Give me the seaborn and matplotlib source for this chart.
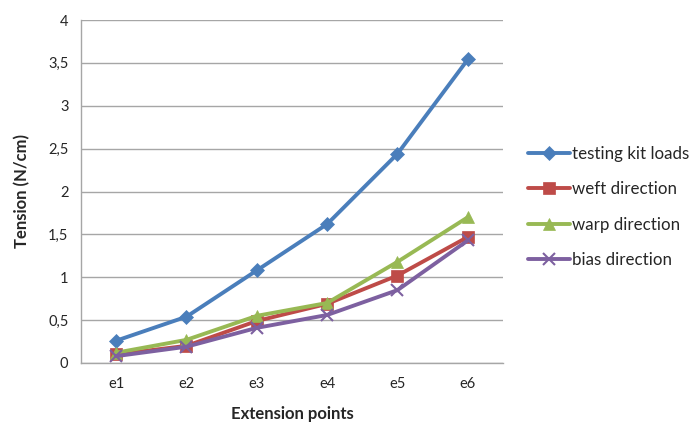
import matplotlib
matplotlib.use("Agg")
import matplotlib.pyplot as plt
import seaborn as sns
import pandas as pd
import numpy as np

categories = ["e1", "e2", "e3", "e4", "e5", "e6"]
testing_kit = [0.26, 0.54, 1.08, 1.62, 2.44, 3.54]
weft = [0.10, 0.20, 0.49, 0.69, 1.02, 1.47]
warp = [0.12, 0.27, 0.55, 0.70, 1.18, 1.70]
bias = [0.08, 0.19, 0.41, 0.56, 0.85, 1.43]
series_names = ["testing kit loads", "weft direction", "warp direction", "bias direction"]
y_ticks = [0, 0.5, 1, 1.5, 2, 2.5, 3, 3.5, 4]
y_tick_labels = ["0", "0,5", "1", "1,5", "2", "2,5", "3", "3,5", "4"]

sns.set_theme(style="white")
plt.rcParams["font.family"] = ["Lato", "DejaVu Sans"]

rows = []
for name, vals in zip(series_names, [testing_kit, weft, warp, bias]):
    for i, (c, v) in enumerate(zip(categories, vals)):
        rows.append({"pos": i, "cat": c, "value": v, "series": name})
df = pd.DataFrame(rows)

colors = ["#4A7EBB", "#BE4B48", "#98B954", "#7D60A0"]
markers = ["D", "s", "^", "x"]
msizes = [7, 9, 9, 9]

fig = plt.figure(figsize=(6.94, 4.28), dpi=100)
ax = fig.add_axes([81/694, 1-363/428, (503-81)/694, (363-20)/428])

for name, col, mk, ms in zip(series_names, colors, markers, msizes):
    sub = df[df.series == name]
    sns.lineplot(data=sub, x="pos", y="value", ax=ax, color=col, marker=mk,
                 markersize=ms, linewidth=2.8, label=name,
                 markeredgecolor=col, markeredgewidth=1.5 if mk == "x" else 0.5)

ax.set_xlim(-0.5, 5.5)
ax.set_ylim(0, 4)
ax.set_yticks(y_ticks)
ax.set_yticklabels(y_tick_labels)
ax.set_xticks(range(len(categories)))
ax.set_xticklabels(categories)
ax.set_xticks(np.arange(-0.5, 6, 1), minor=True)
ax.tick_params(axis="x", which="major", length=0, labelsize=10.5, colors="#262626", pad=10)
ax.tick_params(axis="x", which="minor", length=5, color="#A6A6A6", width=1, direction="out")
ax.tick_params(axis="y", length=5, color="#A6A6A6", width=1, direction="out", labelsize=10.5, colors="#262626", pad=4)
ax.yaxis.grid(True, color="#A6A6A6", linewidth=1)
ax.set_axisbelow(True)
for s in ["top", "right"]:
    ax.spines[s].set_visible(False)
for s in ["left", "bottom"]:
    ax.spines[s].set_color("#A6A6A6")
    ax.spines[s].set_linewidth(1)

ax.set_xlabel("Extension points", fontsize=12, fontweight="bold", color="#262626", labelpad=11)
ax.set_ylabel("Tension (N/cm)", fontsize=12, fontweight="bold", color="#262626", labelpad=13)

leg = ax.legend(loc="center left", bbox_to_anchor=(528/422 - 81/422, 0.455),
                frameon=False, fontsize=12.2, handlelength=2.5, labelspacing=1.15,
                handletextpad=0.1, borderaxespad=0, borderpad=0)
for t in leg.get_texts():
    t.set_color("#262626")

fig.savefig("out.png", dpi=100)
